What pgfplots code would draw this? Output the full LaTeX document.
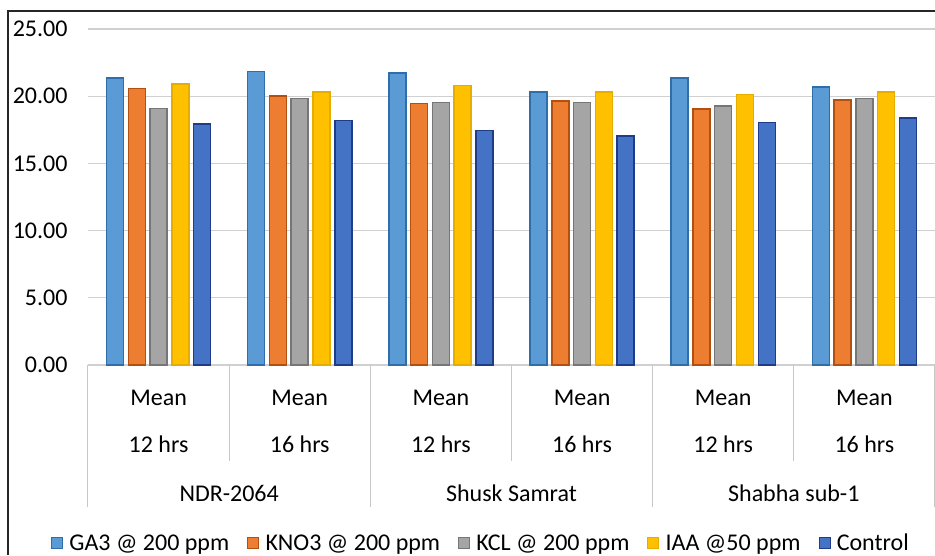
\documentclass[border=0pt]{standalone}
\usepackage{pgfplots}
\pgfplotsset{compat=1.18}
\usepackage{pgfplotstable}
\usepackage{fontspec}
\setmainfont{Carlito}

\definecolor{gaFill}{HTML}{5B9BD5}\definecolor{gaLine}{HTML}{2F6EAA}
\definecolor{knFill}{HTML}{ED7D31}\definecolor{knLine}{HTML}{B4500F}
\definecolor{kcFill}{HTML}{A5A5A5}\definecolor{kcLine}{HTML}{767676}
\definecolor{iaFill}{HTML}{FFC000}\definecolor{iaLine}{HTML}{E6AC00}
\definecolor{coFill}{HTML}{4472C4}\definecolor{coLine}{HTML}{1F3C8A}
\definecolor{gridgrey}{HTML}{D0D0D0}
\definecolor{divgrey}{HTML}{C8C8C8}

\newcommand\lbl{\fontsize{24}{26}\selectfont}

% mean values: NDR-2064 (12, 16 hrs), Shusk Samrat (12, 16 hrs), Shabha sub-1 (12, 16 hrs)
\pgfplotstableread{
x  ga     kno    kcl    iaa    ctrl
0  21.36  20.59  19.07  20.89  17.93
1  21.85  20.03  19.83  20.30  18.18
2  21.73  19.44  19.53  20.79  17.44
3  20.30  19.63  19.53  20.30  17.04
4  21.36  19.04  19.26  20.13  18.03
5  20.70  19.73  19.83  20.30  18.37
}\means

\begin{document}
\begin{tikzpicture}[x=1pt,y=1pt]
\begin{axis}[
  at={(88pt,190pt)}, anchor=south west,
  scale only axis, width=847pt, height=336pt,
  xmin=-0.5, xmax=5.5, ymin=0, ymax=25,
  ybar=4.8pt, bar width=17pt,
  axis line style={draw=none},
  major tick length=0pt,
  xtick=\empty,
  ytick={0,5,...,25},
  ymajorgrids, grid style={color=gridgrey, line width=1.2pt},
  yticklabel style={font=\lbl, anchor=east, xshift=-17pt},
  /pgf/number format/.cd, fixed, fixed zerofill, precision=2, assume math mode=true,
  /pgfplots/.cd,
  clip=false,
  legend columns=5,
  legend style={draw=none, font=\lbl, at={(axis description cs:0.464,-0.53)}, anchor=center,
    /tikz/every even column/.append style={column sep=16pt}},
  legend image code/.code={\draw[#1, line width=1pt] (0pt,-5.5pt) rectangle (11pt,5.5pt);
    \path (15pt,0pt);},
]
\addplot[fill=gaFill, draw=gaLine, line width=1.5pt] table[x=x, y=ga] {\means};
\addplot[fill=knFill, draw=knLine, line width=1.5pt] table[x=x, y=kno] {\means};
\addplot[fill=kcFill, draw=kcLine, line width=1.5pt] table[x=x, y=kcl] {\means};
\addplot[fill=iaFill, draw=iaLine, line width=1.5pt] table[x=x, y=iaa] {\means};
\addplot[fill=coFill, draw=coLine, line width=1.5pt] table[x=x, y=ctrl] {\means};
\legend{GA3 @ 200 ppm, KNO3 @ 200 ppm, KCL @ 200 ppm, IAA @50 ppm, Control}

% category dividers below the axis
\draw[divgrey, line width=1pt] (axis cs:-0.5,0) -- ++(0pt,-142pt);
\draw[divgrey, line width=1pt] (axis cs:1.5,0) -- ++(0pt,-142pt);
\draw[divgrey, line width=1pt] (axis cs:3.5,0) -- ++(0pt,-142pt);
\draw[divgrey, line width=1pt] (axis cs:5.5,0) -- ++(0pt,-142pt);
\draw[divgrey, line width=1pt] (axis cs:0.5,0) -- ++(0pt,-96pt);
\draw[divgrey, line width=1pt] (axis cs:2.5,0) -- ++(0pt,-96pt);
\draw[divgrey, line width=1pt] (axis cs:4.5,0) -- ++(0pt,-96pt);

% category labels
\node[font=\lbl] at ([yshift=-33pt]axis cs:0,0) {Mean};
\node[font=\lbl] at ([yshift=-33pt]axis cs:1,0) {Mean};
\node[font=\lbl] at ([yshift=-33pt]axis cs:2,0) {Mean};
\node[font=\lbl] at ([yshift=-33pt]axis cs:3,0) {Mean};
\node[font=\lbl] at ([yshift=-33pt]axis cs:4,0) {Mean};
\node[font=\lbl] at ([yshift=-33pt]axis cs:5,0) {Mean};
\node[font=\lbl] at ([yshift=-79pt]axis cs:0,0) {12 hrs};
\node[font=\lbl] at ([yshift=-79pt]axis cs:1,0) {16 hrs};
\node[font=\lbl] at ([yshift=-79pt]axis cs:2,0) {12 hrs};
\node[font=\lbl] at ([yshift=-79pt]axis cs:3,0) {16 hrs};
\node[font=\lbl] at ([yshift=-79pt]axis cs:4,0) {12 hrs};
\node[font=\lbl] at ([yshift=-79pt]axis cs:5,0) {16 hrs};
\node[font=\lbl] at ([yshift=-128pt]axis cs:0.5,0) {NDR-2064};
\node[font=\lbl] at ([yshift=-128pt]axis cs:2.5,0) {Shusk Samrat};
\node[font=\lbl] at ([yshift=-128pt]axis cs:4.5,0) {Shabha sub-1};
\end{axis}
% chart frame
\draw[black!85, line width=1.2pt] (8,0) -- (8,544) -- (935,544);
\pgfresetboundingbox
\useasboundingbox (0,0) rectangle (935,555);
\end{tikzpicture}
\end{document}
